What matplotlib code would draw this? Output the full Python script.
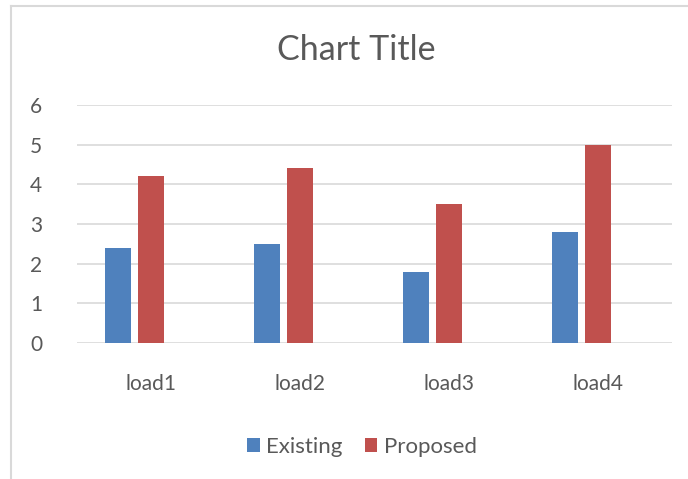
import matplotlib
matplotlib.use("Agg")
import matplotlib.pyplot as plt
from matplotlib.patches import Patch
from matplotlib.lines import Line2D
from matplotlib import font_manager
import numpy as np

categories = ["load1", "load2", "load3", "load4"]
existing = [2.4, 2.5, 1.8, 2.8]
proposed = [4.2, 4.4, 3.5, 5.0]
series_names = ["Existing", "Proposed"]
yticks = [0, 1, 2, 3, 4, 5, 6]
title = "Chart Title"

avail = {f.name for f in font_manager.fontManager.ttflist}
fam = "Lato" if "Lato" in avail else "DejaVu Sans"
plt.rcParams['font.family'] = [fam, 'DejaVu Sans']

TXT = "#595959"
BLUE = "#4F81BD"
RED = "#C0504D"
GRID = "#D9D9D9"

W, H = 688, 479
fig = plt.figure(figsize=(W/100, H/100), dpi=100)
ax = fig.add_axes([77/W, 1-343/H, (672-77)/W, (343-105)/H])

x = np.arange(len(categories))
bw = 1/5.73
pitch = 1.27*bw
ax.bar(x - pitch, existing, width=bw, color=BLUE, zorder=3)
ax.bar(x, proposed, width=bw, color=RED, zorder=3)

ax.set_xlim(-0.5, len(categories)-0.5)
ax.set_ylim(0, 6)
ax.set_yticks(yticks)
ax.set_yticklabels([str(v) for v in yticks])
ax.set_xticks(x)
ax.set_xticklabels(categories)
for s in ax.spines.values():
    s.set_visible(False)
ax.tick_params(axis='both', length=0, colors=TXT, labelsize=15)
ax.tick_params(axis='y', pad=25)
ax.tick_params(axis='x', pad=22)
ax.yaxis.grid(True, color=GRID, linewidth=1.2, zorder=0)
ax.set_axisbelow(True)

fig.text(356/W, 1-50/H, title, ha='center', va='center', fontsize=24.5,
         fontweight='normal', color=TXT)

handles = [Patch(facecolor=BLUE), Patch(facecolor=RED)]
leg = fig.legend(handles, series_names, loc='center', bbox_to_anchor=(362/W, 1-447/H),
                 ncol=2, frameon=False, fontsize=16, handlelength=0.56, handleheight=0.56,
                 handletextpad=0.3, columnspacing=1.0, labelcolor=TXT)

# chart-area border
fig.add_artist(Line2D([11/W, 11/W], [0, 1-6/H], color=GRID, linewidth=1.5, transform=fig.transFigure))
fig.add_artist(Line2D([11/W, 1], [1-6/H, 1-6/H], color=GRID, linewidth=1.5, transform=fig.transFigure))

fig.savefig("out.png", dpi=100, facecolor="white")
